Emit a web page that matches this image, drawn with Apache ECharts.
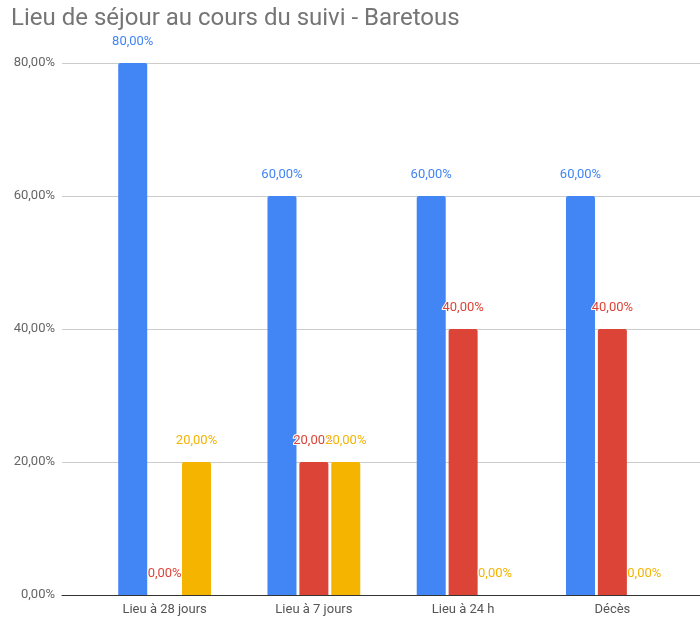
<!DOCTYPE html>
<html>
<head>
<meta charset="utf-8">
<script src="https://cdn.jsdelivr.net/npm/echarts@6/dist/echarts.min.js"></script>
<style>
  html, body { margin: 0; padding: 0; background: #fff; }
  #chart { width: 700px; height: 620px; }
</style>
</head>
<body>
<div id="chart"></div>
<script>
var categories = ['Lieu à 28 jours', 'Lieu à 7 jours', 'Lieu à 24 h', 'Décès'];
var blueValues = [80, 60, 60, 60];
var redValues = [0, 20, 40, 40];
var yellowValues = [20, 20, 0, 0];
var yTicks = [0, 20, 40, 60, 80];

function pct(v) {
    return Number(v).toFixed(2).replace('.', ',') + '%';
}

function barSeries(name, data, color) {
    return {
        name: name,
        type: 'bar',
        xAxisIndex: 1,
        yAxisIndex: 1,
        barWidth: 29,
        barGap: '10%',
        data: data,
        itemStyle: { color: color, borderRadius: [2, 2, 0, 0] },
        label: {
            show: true,
            position: 'top',
            distance: 15,
            color: color,
            fontSize: 13,
            fontFamily: 'Roboto',
            textBorderColor: '#fff',
            textBorderWidth: 2,
            formatter: function (p) { return pct(p.value); }
        }
    };
}

var myChart = echarts.init(document.getElementById('chart'));
var option = {
    animation: false,
    title: {
        text: 'Lieu de séjour au cours du suivi - Baretous',
        left: 6,
        top: 2,
        textStyle: { fontSize: 24, fontWeight: 'normal', color: '#757575', fontFamily: 'Roboto' }
    },
    grid: [
        { left: 62, right: 0, top: 63, bottom: 25 },   // background: gridlines + baseline
        { left: 90, right: 13, top: 63, bottom: 25 }   // bars
    ],
    xAxis: [
        {
            gridIndex: 0, type: 'value', min: 0, max: 1,
            axisLine: { show: true, lineStyle: { color: '#333', width: 1 } },
            axisTick: { show: false }, axisLabel: { show: false }, splitLine: { show: false }
        },
        {
            gridIndex: 1, type: 'category', data: categories,
            axisLine: { show: false }, axisTick: { show: false },
            axisLabel: { color: '#555', fontSize: 13, fontFamily: 'Roboto', margin: 8 }
        }
    ],
    yAxis: [
        {
            gridIndex: 0, type: 'value',
            min: yTicks[0], max: yTicks[yTicks.length - 1], interval: 20,
            axisLine: { show: false }, axisTick: { show: false },
            axisLabel: { color: '#666', fontSize: 13, fontFamily: 'Roboto', margin: 7, formatter: pct },
            splitLine: { lineStyle: { color: '#ccc' } }
        },
        {
            gridIndex: 1, type: 'value',
            min: yTicks[0], max: yTicks[yTicks.length - 1], interval: 20,
            show: false
        }
    ],
    series: [
        barSeries('Bleu', blueValues, '#4285F4'),
        barSeries('Rouge', redValues, '#DB4437'),
        barSeries('Jaune', yellowValues, '#F4B400')
    ]
};
myChart.setOption(option);
</script>
</body>
</html>
